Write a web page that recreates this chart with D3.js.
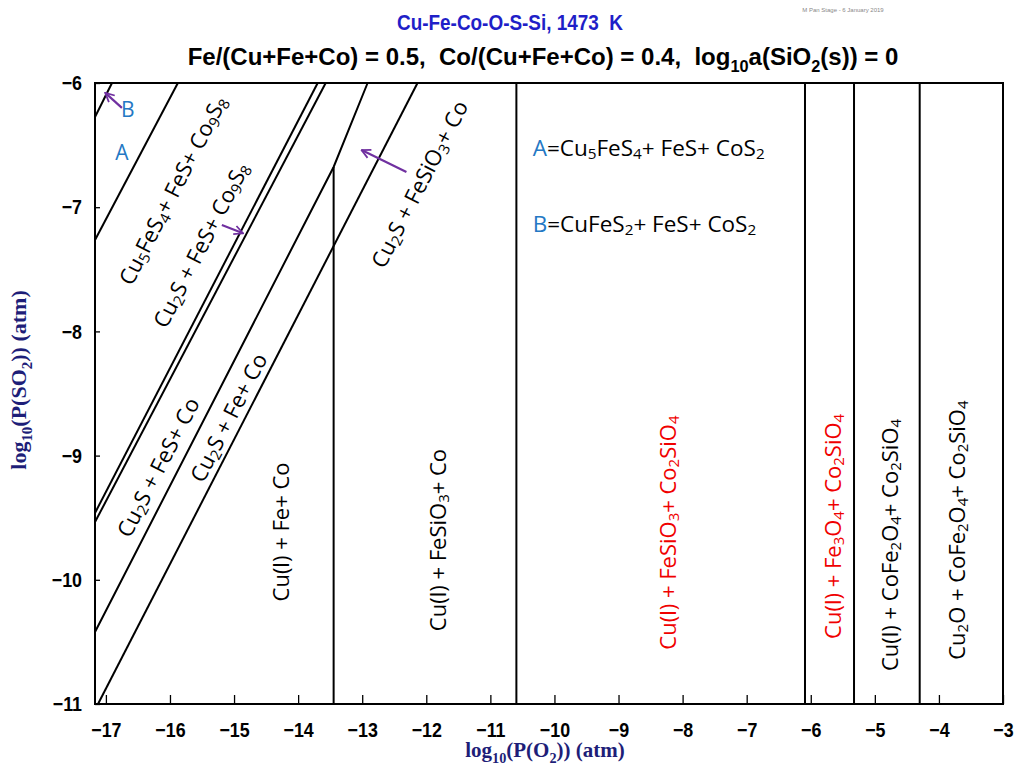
<!DOCTYPE html>
<html>
<head>
<meta charset="utf-8">
<script src="https://cdn.jsdelivr.net/npm/d3@7"></script>
<style>
  body { margin: 0; background: #fff; }
  svg { display: block; }
</style>
</head>
<body>
<svg id="chart" width="1019" height="767"></svg>
<script>
// ticks
const xMajor = d3.range(-17, -2)
const yMajor = d3.range(-11, -5)

// boundaries, [log pO2, log pSO2] points
// (the FeS line bends where it meets the Fe/FeSiO3 vertical)
const diagLines = [
  [[-16.905, -6], [-17.17, -6.274]],
  [[-15.877, -6], [-17.17, -7.264]],
  [[-13.695, -6], [-17.17, -9.462]],
  [[-13.57, -6], [-17.17, -9.535]],
  [[-12.916, -6], [-13.446, -6.676], [-17.17, -10.42]],
  [[-12.137, -6], [-17.123, -11]]
]

// vertical boundaries
const vertX = [-13.446, -10.594, -6.09, -5.325, -4.30]
const vertTop = [-6.676, -6, -6, -6, -6]

// region labels (anchor in data units)
const regionText = [
  'Cu_5FeS_4+ FeS+ Co_9S_8',
  'Cu_2S + FeS+ Co_9S_8',
  'Cu_2S + FeS+ Co',
  'Cu_2S + Fe+ Co',
  'Cu_2S + FeSiO_3+ Co',
  'Cu(l) + Fe+ Co',
  'Cu(l) + FeSiO_3+ Co',
  'Cu(l) + FeSiO_3+ Co_2SiO_4',
  'Cu(l) + Fe_3O_4+ Co_2SiO_4',
  'Cu(l) + CoFe_2O_4+ Co_2SiO_4',
  'Cu_2O + CoFe_2O_4+ Co_2SiO_4'
]
const regionX = [-15.97, -15.53, -16.20, -15.10, -12.12, -14.29, -11.84, -8.24, -5.67, -4.78, -3.74]
const regionY = [-6.86, -7.30, -9.09, -8.69, -6.81, -9.615, -9.68, -9.62, -9.57, -9.72, -9.60]
const regionRed = [false, false, false, false, false, false, false, true, true, false, false]
const regionDiag = [true, true, true, true, true, false, false, false, false, false, false]

// purple arrows
const arrowFrom = [[-16.75, -6.20], [-15.19, -7.143], [-12.31, -6.717]]
const arrowTo = [[-17.01, -6.08], [-14.86, -7.21], [-13.01, -6.54]]

var svg = d3.select('#chart')
var x = d3.scaleLinear().domain([-17.17, -3]).range([95, 1003])
var y = d3.scaleLinear().domain([-11, -6]).range([704, 83])

const sans = '"Liberation Sans", Arial, sans-serif'
const calib = '"Open Sans", "Noto Sans", sans-serif'
const serif = '"Liberation Serif", "Times New Roman", serif'

// text with _n subscripts
function rich(t, str, fs) {
  let down = false
  str.split(/(_\d+)/).forEach(p => {
    if (!p) return
    if (p[0] === '_') {
      t.append('tspan').attr('font-size', fs * 0.68).attr('dy', fs * 0.28).text(p.slice(1))
      down = true
    } else {
      t.append('tspan').attr('dy', down ? -fs * 0.28 : null).text(p)
      down = false
    }
  })
  return t
}

// squeeze a text a bit (the original uses a narrow face)
function squeeze(node, k) {
  let w = node.getComputedTextLength()
  if (w > 0) d3.select(node).attr('textLength', w * k).attr('lengthAdjust', 'spacingAndGlyphs')
}

// put the middle of a (start anchored) text on x=cx in its own coords
function centre(t, cx) {
  let b = t.node().getBBox()
  t.attr('x', +t.attr('x') + cx - (b.x + b.width / 2))
  return t
}

// titles
svg.append('text')
  .attr('x', 510).attr('y', 30)
  .attr('text-anchor', 'middle')
  .attr('xml:space', 'preserve')
  .attr('font-family', sans).attr('font-weight', 'bold').attr('font-size', 22)
  .attr('fill', '#1f1fc8')
  .attr('textLength', 226).attr('lengthAdjust', 'spacingAndGlyphs')
  .text('Cu-Fe-Co-O-S-Si, 1473  K')

let sub = rich(svg.append('text')
  .attr('x', 0).attr('y', 65)
  .attr('font-family', sans).attr('font-weight', 'bold').attr('font-size', 24)
  .attr('fill', '#000')
  .attr('xml:space', 'preserve'),
  'Fe/(Cu+Fe+Co) = 0.5,  Co/(Cu+Fe+Co) = 0.4,  log_10a(SiO_2(s)) = 0', 24)
centre(sub, 543)

svg.append('text')
  .attr('x', 843).attr('y', 12)
  .attr('text-anchor', 'middle')
  .attr('font-family', sans).attr('font-size', 6)
  .attr('fill', '#888')
  .text('M Pan Stage - 6 January 2019')

// axes
let gx = svg.append('g').attr('transform', 'translate(0,' + y(-11) + ')')
gx.call(d3.axisBottom(x).tickValues(d3.range(-171, -29).map(d => d / 10)).tickSize(-4).tickFormat(''))
gx.call(d3.axisBottom(x).tickValues(xMajor).tickSize(-9).tickPadding(18).tickFormat(d3.format('d')))
gx.selectAll('.domain').remove()

let gy = svg.append('g').attr('transform', 'translate(' + x(-17.17) + ',0)')
gy.call(d3.axisLeft(y).tickValues(d3.range(-110, -59).map(d => d / 10)).tickSize(-5).tickFormat(''))
gy.call(d3.axisLeft(y).tickValues(yMajor).tickSize(-5).tickPadding(13).tickFormat(d3.format('d')))
gy.selectAll('.domain').remove()

svg.selectAll('.tick line').attr('stroke', '#000').attr('stroke-width', 1.3)
svg.selectAll('.tick text')
  .attr('font-family', sans).attr('font-weight', 'bold').attr('font-size', 21)
  .attr('fill', '#000')
  .each(function () { squeeze(this, 0.85) })

// axis titles
let xt = rich(svg.append('text')
  .attr('x', 0).attr('y', 757)
  .attr('font-family', serif).attr('font-weight', 'bold').attr('font-size', 21)
  .attr('fill', '#1e1e78'),
  'log_10(P(O_2)) (atm)', 21)
centre(xt, 545)

let yt = rich(svg.append('text')
  .attr('x', 0).attr('y', 0)
  .attr('transform', 'translate(26,380) rotate(-90)')
  .attr('font-family', serif).attr('font-weight', 'bold').attr('font-size', 22)
  .attr('fill', '#1e1e78'),
  'log_10(P(SO_2)) (atm)', 22)
centre(yt, 0)

// boundaries
let line = d3.line().x(d => x(d[0])).y(d => y(d[1]))
let lines = svg.append('g').attr('stroke', '#000').attr('stroke-width', 2).attr('fill', 'none')

lines.selectAll('.diag')
  .data(diagLines)
  .enter()
  .append('path')
  .attr('class', 'diag')
  .attr('d', line)

lines.selectAll('.vert')
  .data(vertX)
  .enter()
  .append('line')
  .attr('class', 'vert')
  .attr('x1', (d) => x(d))
  .attr('x2', (d) => x(d))
  .attr('y1', y(-11))
  .attr('y2', (d, i) => y(vertTop[i]))

// frame
svg.append('rect')
  .attr('x', x(-17.17)).attr('y', y(-6))
  .attr('width', x(-3) - x(-17.17)).attr('height', y(-11) - y(-6))
  .attr('fill', 'none').attr('stroke', '#000').attr('stroke-width', 2)

// labels
let ang = -Math.atan((y(-7) - y(-6)) / (x(-16) - x(-17))) * 180 / Math.PI

regionText.forEach((s, i) => {
  let t = svg.append('text')
    .attr('transform', 'translate(' + x(regionX[i]) + ',' + y(regionY[i]) + ') rotate(' + (regionDiag[i] ? ang : -90) + ')')
    .attr('text-anchor', 'middle')
    .attr('dominant-baseline', 'central')
    .attr('font-family', calib).attr('font-size', 22)
    .attr('fill', regionRed[i] ? '#f00000' : '#000')
  rich(t, s, 22)
})

// A / B
svg.append('text').attr('x', x(-16.75)).attr('y', y(-6.555)).attr('dominant-baseline', 'central')
  .attr('text-anchor', 'middle')
  .attr('font-family', calib).attr('font-size', 21).attr('fill', '#2478c4').text('A')
svg.append('text').attr('x', x(-16.66)).attr('y', y(-6.21)).attr('dominant-baseline', 'central')
  .attr('text-anchor', 'middle')
  .attr('font-family', calib).attr('font-size', 21).attr('fill', '#2478c4').text('B')

let keyA = svg.append('text').attr('x', x(-10.34)).attr('y', y(-6.515)).attr('dominant-baseline', 'central')
  .attr('font-family', calib).attr('font-size', 22.5)
keyA.append('tspan').attr('fill', '#2478c4').text('A')
rich(keyA, '=Cu_5FeS_4+ FeS+ CoS_2', 22.5)

let keyB = svg.append('text').attr('x', x(-10.34)).attr('y', y(-7.127)).attr('dominant-baseline', 'central')
  .attr('font-family', calib).attr('font-size', 22.5)
keyB.append('tspan').attr('fill', '#2478c4').text('B')
rich(keyB, '=CuFeS_2+ FeS+ CoS_2', 22.5)

// arrows
svg.append('defs').append('marker')
  .attr('id', 'head')
  .attr('viewBox', '0 0 10 10')
  .attr('refX', 9).attr('refY', 5)
  .attr('markerWidth', 5).attr('markerHeight', 5)
  .attr('orient', 'auto')
  .append('path')
  .attr('d', 'M1,1 L9,5 L1,9')
  .attr('fill', 'none').attr('stroke', '#7030a0').attr('stroke-width', 1.6)

svg.selectAll('.arrow')
  .data(arrowFrom)
  .enter()
  .append('line')
  .attr('class', 'arrow')
  .attr('x1', (d) => x(d[0])).attr('y1', (d) => y(d[1]))
  .attr('x2', (d, i) => x(arrowTo[i][0])).attr('y2', (d, i) => y(arrowTo[i][1]))
  .attr('stroke', '#7030a0').attr('stroke-width', 2.2)
  .attr('marker-end', 'url(#head)')
</script>
</body>
</html>
